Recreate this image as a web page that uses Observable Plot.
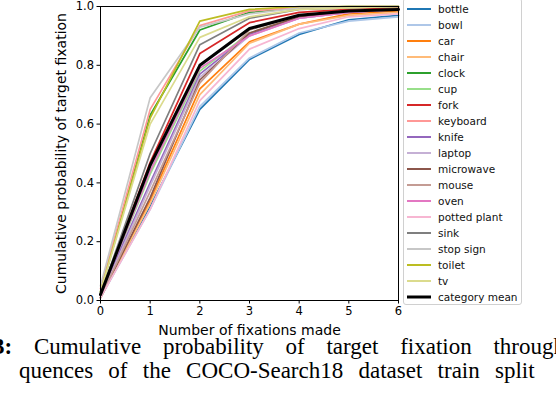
<!DOCTYPE html>
<html>
<head>
<meta charset="utf-8">
<script src="https://cdn.jsdelivr.net/npm/d3@7"></script>
<script src="https://cdn.jsdelivr.net/npm/@observablehq/plot@0.6"></script>
<style>
  html, body { margin: 0; padding: 0; background: #fff; }
  #root { position: relative; width: 556px; height: 398px; overflow: hidden; background: #fff; }
  #chart { position: absolute; left: 0; top: 0; }
  #chart svg { font-family: "DejaVu Sans", sans-serif; }
  #chart [aria-label="x-axis label"] text, #chart [aria-label="y-axis label"] text { font-size: 14px; }
  #legend { position: absolute; left: 403px; top: -2px; width: 119px; height: 307px; border: 1px solid #d0d0d0; border-radius: 3px; box-sizing: border-box; background: #fff; font-family: "DejaVu Sans", sans-serif; font-size: 10.5px; color: #111; }
  .item { position: absolute; left: 0; height: 16px; display: flex; align-items: center; }
  .item svg { margin-left: 3px; margin-right: 7px; }
  .cap { position: absolute; font-family: "Liberation Serif", "Times New Roman", serif; font-size: 23px; color: #000; white-space: nowrap; line-height: 26px; }
</style>
</head>
<body>
<div id="root">
  <div id="chart"></div>
  <div id="legend"></div>
  <div class="cap" id="cap1"></div>
  <div class="cap" id="cap2"></div>
</div>
<script>
const steps = [0, 1, 2, 3, 4, 5, 6];
const categories = ["bottle","bowl","car","chair","clock","cup","fork","keyboard","knife","laptop","microwave","mouse","oven","potted plant","sink","stop sign","toilet","tv"];
const colors = ["#1f77b4","#aec7e8","#ff7f0e","#ffbb78","#2ca02c","#98df8a","#d62728","#ff9896","#9467bd","#c5b0d5","#8c564b","#c49c94","#e377c2","#f7b6d2","#7f7f7f","#c7c7c7","#bcbd22","#dbdb8d"];

const bottle      = [0.01, 0.32, 0.65, 0.82, 0.905, 0.955, 0.97];
const bowl        = [0.01, 0.31, 0.66, 0.825, 0.91, 0.95, 0.965];
const car         = [0.01, 0.34, 0.72, 0.88, 0.94, 0.975, 0.985];
const chair       = [0.01, 0.33, 0.70, 0.875, 0.94, 0.97, 0.98];
const clock       = [0.03, 0.63, 0.92, 0.98, 0.995, 1.0, 1.0];
const cup         = [0.02, 0.43, 0.78, 0.91, 0.965, 0.985, 0.99];
const fork        = [0.02, 0.47, 0.84, 0.945, 0.98, 0.99, 0.995];
const keyboard    = [0.04, 0.65, 0.935, 0.985, 0.995, 1.0, 1.0];
const knife       = [0.02, 0.40, 0.77, 0.905, 0.96, 0.98, 0.99];
const laptop      = [0.01, 0.39, 0.76, 0.90, 0.96, 0.98, 0.99];
const microwave   = [0.01, 0.35, 0.75, 0.91, 0.965, 0.985, 0.99];
const mouse       = [0.01, 0.37, 0.74, 0.92, 0.97, 0.985, 0.99];
const oven        = [0.02, 0.44, 0.79, 0.90, 0.96, 0.98, 0.99];
const pottedPlant = [0.01, 0.31, 0.68, 0.855, 0.925, 0.965, 0.975];
const sink        = [0.02, 0.50, 0.87, 0.96, 0.99, 0.995, 1.0];
const stopSign    = [0.05, 0.69, 0.93, 0.975, 0.995, 1.0, 1.0];
const toilet      = [0.03, 0.62, 0.95, 0.99, 1.0, 1.0, 1.0];
const tv          = [0.03, 0.60, 0.895, 0.965, 0.99, 0.995, 1.0];
const categoryMean = [0.02, 0.46, 0.80, 0.925, 0.97, 0.985, 0.99];

const xTicks = [0, 1, 2, 3, 4, 5, 6];
const yTicks = [0, 0.2, 0.4, 0.6, 0.8, 1.0];
const xLabel = "Number of fixations made";
const yLabel = "Cumulative probability of target fixation";
const meanLabel = "category mean";
const captionNum = "3:";
const captionLine1 = ["Cumulative", "probability", "of", "target", "fixation", "through"];
const captionLine2 = "quences of the COCO-Search18 dataset train split";

const series = [bottle, bowl, car, chair, clock, cup, fork, keyboard, knife, laptop, microwave, mouse, oven, pottedPlant, sink, stopSign, toilet, tv];
const rows = [];
categories.forEach((c, i) => steps.forEach((s, j) => rows.push({cat: c, step: s, p: series[i][j]})));
const meanRows = steps.map((s, j) => ({step: s, p: categoryMean[j]}));

const chart = Plot.plot({
  width: 556,
  height: 336,
  marginLeft: 100,
  marginRight: 158,
  marginTop: 6,
  marginBottom: 36,
  x: {domain: [0, 6]},
  y: {domain: [0, 1]},
  color: {domain: categories, range: colors},
  marks: [
    Plot.axisX({ticks: xTicks, tickSize: 3.5, tickPadding: 3, fontSize: 11.5, tickFormat: d3.format("d"), label: xLabel, labelAnchor: "center", labelArrow: "none", labelOffset: 34}),
    Plot.axisY({ticks: yTicks, tickSize: 3.5, tickPadding: 3, fontSize: 11.5, tickFormat: d3.format(".1f"), label: yLabel, labelAnchor: "center", labelArrow: "none", labelOffset: 44}),
    Plot.line(rows, {x: "step", y: "p", z: "cat", stroke: "cat", strokeWidth: 1.7}),
    Plot.line(meanRows, {x: "step", y: "p", stroke: "black", strokeWidth: 3}),
    Plot.frame({stroke: "black", strokeWidth: 1})
  ]
});
document.getElementById("chart").appendChild(chart);

const legend = document.getElementById("legend");
const entries = categories.map((c, i) => ({label: c, color: colors[i], w: 2})).concat([{label: meanLabel, color: "black", w: 3}]);
entries.forEach((e, i) => {
  const it = document.createElement("div");
  it.className = "item";
  it.style.top = (2 + i * 16) + "px";
  it.innerHTML = `<svg width="24" height="6"><line x1="0" x2="24" y1="3" y2="3" stroke="${e.color}" stroke-width="${e.w}"/></svg><span>${e.label}</span>`;
  legend.appendChild(it);
});

const cap1 = document.getElementById("cap1");
cap1.style.left = "-7px";
cap1.style.top = "334px";
cap1.style.width = "572px";
cap1.style.display = "flex";
cap1.style.justifyContent = "space-between";
cap1.innerHTML = `<b>${captionNum}</b>` + captionLine1.map(w => `<span>${w}</span>`).join("");
const cap2 = document.getElementById("cap2");
cap2.style.left = "19px";
cap2.style.top = "358px";
cap2.style.wordSpacing = "9.5px";
cap2.textContent = captionLine2;
</script>
</body>
</html>
